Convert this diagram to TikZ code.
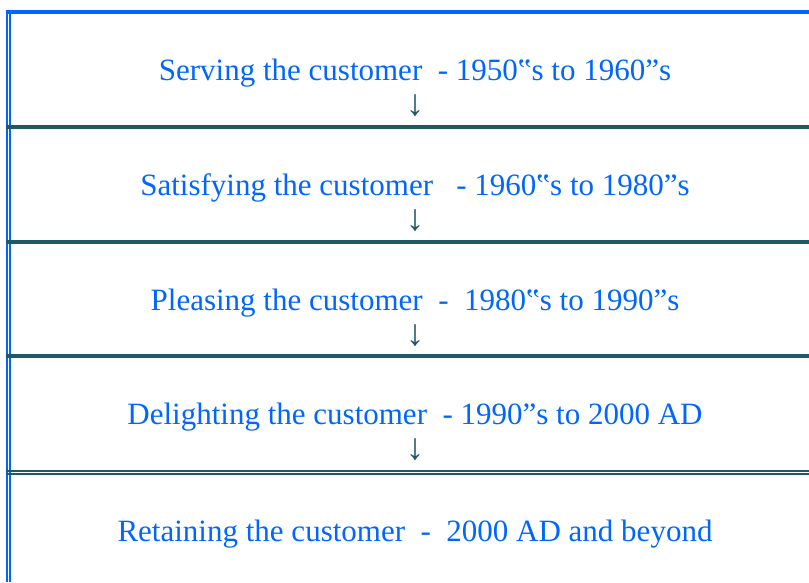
\documentclass[tikz,border=0pt]{standalone}
\usepackage{fontspec}
\setmainfont{Liberation Serif}
\usepackage{xcolor}
\definecolor{bordo}{RGB}{0,102,255}
\definecolor{riga}{RGB}{31,88,102}

\begin{document}
\begin{tikzpicture}[x=1pt,y=-1pt,
  fase/.style={text=bordo,font=\fontsize{31}{36}\selectfont,inner sep=0pt,anchor=base},
  freccia/.style={text=riga,font=\fontsize{37}{40}\selectfont,inner sep=0pt}]
\useasboundingbox (0,0) rectangle (809,582);

% Bordo blu
\draw[bordo,line width=4pt] (6,12) -- (809,12);
\draw[bordo,line width=2pt] (7,10) -- (7,582);
\draw[bordo,line width=2pt] (10,14) -- (10,582);

% Righe di separazione
\draw[riga,line width=4pt] (6,127) -- (809,127);
\draw[riga,line width=4pt] (6,242) -- (809,242);
\draw[riga,line width=4pt] (6,356) -- (809,356);
\draw[riga,line width=2pt] (6,471) -- (809,471);
\draw[riga,line width=2pt] (6,474) -- (809,474);

% Fasi
\node[fase] (serving) at (415,80) {Serving the customer\ \ - 1950‟s to 1960”s};
\node[freccia] (f1) at (415,106) {↓};
\node[fase] (satisfying) at (415,195) {Satisfying the customer\ \ \ - 1960‟s to 1980”s};
\node[freccia] (f2) at (415,221) {↓};
\node[fase] (pleasing) at (415,310) {Pleasing the customer\ \ -\ \ 1980‟s to 1990”s};
\node[freccia] (f3) at (415,336) {↓};
\node[fase] (delighting) at (415,424) {Delighting the customer\ \ - 1990”s to 2000 AD};
\node[freccia] (f4) at (415,450) {↓};
\node[fase] (retaining) at (415,541) {Retaining the customer\ \ -\ \ 2000 AD and beyond};
\end{tikzpicture}
\end{document}
